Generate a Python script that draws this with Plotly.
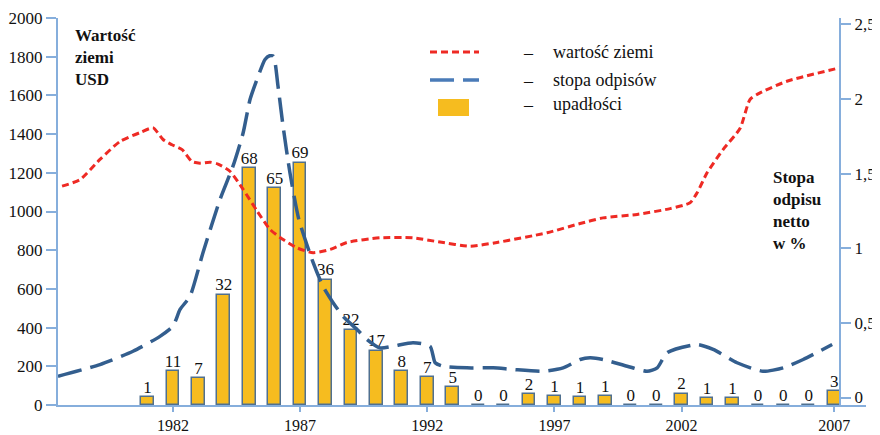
import plotly.graph_objects as go

# ── palette ──────────────────────────────────────────────────────────────
AXIS = "#86AEDC"
RED = "#EE2A24"
BLUE = "#335E8E"
GOLD = "#F6BC1F"
BAR_EDGE = "#50708F"
FONT = "Liberation Serif, Times New Roman, serif"

# ── data ─────────────────────────────────────────────────────────────────
# upadłości: count labels and drawn bar heights (bars use the USD scale)
upadlosci = [1, 11, 7, 32, 68, 65, 69, 36, 22, 17, 8, 7, 5, 0, 0,
             2, 1, 1, 1, 0, 0, 2, 1, 1, 0, 0, 0, 3]
bar_heights = [42, 175, 140, 571, 1226, 1122, 1252, 648, 390, 281, 175, 144, 94, 0, 0,
               58, 44, 42, 45, 0, 0, 59, 37, 37, 0, 0, 0, 73]

tick_pos = [1, 6, 11, 16, 21, 27]
tick_text = ["1982", "1987", "1992", "1997", "2002", "2007"]

# wartość ziemi (USD) - position in bar-slot units
land_x = [-3.36, -2.65, -1.87, -1.08, -0.29, 0.22, 0.61, 0.96, 1.36, 1.75, 2.06, 2.46,
          2.77, 3.24, 3.76, 4.31, 4.82, 5.33, 5.88, 6.51, 7.18, 7.84, 9.14, 10.44,
          11.50, 12.68, 13.74, 15.71, 17.01, 17.91, 19.25, 20.55, 21.33, 21.61, 22.00,
          22.63, 23.30, 23.69, 24.08, 25.14, 27.23]
land_val = [1131, 1165, 1269, 1362, 1408, 1432, 1372, 1345, 1320, 1258, 1250, 1255,
            1245, 1208, 1114, 1002, 907, 855, 812, 787, 804, 840, 864, 864,
            842, 821, 840, 890, 938, 967, 985, 1015, 1045, 1097, 1200,
            1320, 1430, 1579, 1613, 1673, 1743]

# stopa odpisu netto (%)
rate_x = [-3.52, -1.87, -0.57, 0.49, 1.00, 1.28, 1.67, 2.18, 2.85, 3.36, 3.76, 4.03,
          4.35, 4.62, 4.80, 4.95, 5.13, 5.33, 5.60, 5.95, 6.51, 6.90, 7.29, 7.69,
          8.24, 8.63, 9.14, 9.66, 10.44, 11.11, 11.31, 11.62, 12.56, 13.59, 14.37,
          15.55, 16.34, 17.01, 17.40, 17.91, 18.86, 19.64, 20.04, 20.43, 21.61,
          22.24, 23.18, 24.20, 24.99, 25.78, 26.92]
rate_val = [0.143, 0.221, 0.31, 0.41, 0.478, 0.59, 0.679, 0.97, 1.327, 1.55, 1.774, 1.997,
            2.153, 2.265, 2.29, 2.287, 2.087, 1.818, 1.506, 1.193, 0.905, 0.744, 0.637, 0.543,
            0.456, 0.389, 0.333, 0.344, 0.367, 0.344, 0.233, 0.21, 0.199, 0.199, 0.188,
            0.176, 0.199, 0.255, 0.266, 0.255, 0.21, 0.176, 0.199, 0.30, 0.355,
            0.322, 0.233, 0.176, 0.199, 0.255, 0.355]

left_ticks = [0, 200, 400, 600, 800, 1000, 1200, 1400, 1600, 1800, 2000]
right_ticks = [0, 0.5, 1, 1.5, 2, 2.5]
right_text = ["0", "0,5", "1", "1,5", "2", "2,5"]

# ── geometry: page body has an 8px margin, so the figure is 8px smaller ─
OFF = 8
W, H = 880 - OFF, 435 - OFF
L, R, T, B = 58 - OFF, 866 - OFF, 18 - OFF, 405 - OFF


def px(x, y):
    # screen pixel -> paper coords
    return (x - OFF - L) / (R - L), (B - (y - OFF)) / (B - T)


bar_pos = list(range(len(upadlosci)))

fig = go.Figure()
fig.add_trace(go.Bar(
    x=bar_pos, y=bar_heights, width=0.5,
    marker=dict(color=GOLD, line=dict(color=BAR_EDGE, width=1.5)),
    showlegend=False,
))
fig.add_trace(go.Scatter(
    x=bar_pos, y=bar_heights, mode="text", text=[str(v) for v in upadlosci],
    textposition="top center", textfont=dict(family=FONT, size=17, color="#111"),
    showlegend=False,
))
fig.add_trace(go.Scatter(
    x=land_x, y=land_val, mode="lines",
    line=dict(color=RED, width=3, dash="7px,4px", shape="spline", smoothing=0.6),
    showlegend=False,
))
fig.add_trace(go.Scatter(
    x=rate_x, y=rate_val, mode="lines", yaxis="y2",
    line=dict(color=BLUE, width=3.5, dash="24px,9px", shape="spline", smoothing=0.6),
    showlegend=False,
))

right_pos = (840 - 58) / (866 - 58)
ax_common = dict(showgrid=False, zeroline=False, showline=True, linecolor=AXIS,
                 linewidth=2, tickcolor=AXIS, tickwidth=2,
                 tickfont=dict(family=FONT, size=17, color="#111"))

fig.update_layout(
    width=W, height=H,
    margin=dict(l=L, r=W - R, t=T, b=H - B, autoexpand=False),
    paper_bgcolor="white", plot_bgcolor="white",
    font=dict(family=FONT, color="#111"),
    showlegend=False,
    bargap=0,
    xaxis=dict(range=[-3.52, 28.25], tickvals=tick_pos, ticktext=tick_text,
               ticks="outside", ticklen=5, **ax_common),
    yaxis=dict(range=[0, 2000], tickvals=left_ticks, ticks="outside", ticklen=10,
               **ax_common),
    yaxis2=dict(range=[-0.05, 2.543], overlaying="y", anchor="free", position=right_pos,
                side="right", tickvals=right_ticks, ticktext=right_text,
                ticks="outside", ticklen=10, automargin=False, **ax_common),
    yaxis3=dict(range=[0, 2000], overlaying="y", anchor="x", side="left",
                tickvals=left_ticks, ticks="inside", ticklen=10, showticklabels=False,
                showgrid=False, zeroline=False, showline=False, tickcolor=AXIS, tickwidth=2),
    yaxis4=dict(range=[-0.05, 2.543], overlaying="y", anchor="free", position=right_pos,
                side="right", tickvals=right_ticks[1:], ticks="inside", ticklen=8,
                showticklabels=False, showgrid=False, zeroline=False, showline=False,
                tickcolor=AXIS, tickwidth=2),
)
fig.update_xaxes(tickfont_size=16)

# axis titles
x0, y0 = px(73, 24)
fig.add_annotation(xref="paper", yref="paper", x=x0, y=y0, xanchor="left", yanchor="top",
                   align="left", showarrow=False,
                   text="<b>Wartość<br>ziemi<br>USD</b>",
                   font=dict(family=FONT, size=17, color="#111"))
x0, y0 = px(771, 166)
fig.add_annotation(xref="paper", yref="paper", x=x0, y=y0, xanchor="left", yanchor="top",
                   align="left", showarrow=False,
                   text="<b>Stopa<br>odpisu<br>netto<br>w %</b>",
                   font=dict(family=FONT, size=17, color="#111"))

# legend drawn by hand
legend_rows = [("wartość ziemi", 52), ("stopa odpisów", 80), ("upadłości", 104)]
a, b_ = px(430, 52), px(479, 52)
fig.add_shape(type="line", xref="paper", yref="paper", x0=a[0], y0=a[1], x1=b_[0], y1=b_[1],
              line=dict(color=RED, width=3, dash="7px,4px"))
a, b_ = px(430, 80), px(479, 80)
fig.add_shape(type="line", xref="paper", yref="paper", x0=a[0], y0=a[1], x1=b_[0], y1=b_[1],
              line=dict(color="#4A7BB8", width=3.5, dash="24px,9px"))
a, b_ = px(438, 99), px(469, 116)
fig.add_shape(type="rect", xref="paper", yref="paper", x0=a[0], y0=a[1], x1=b_[0], y1=b_[1],
              fillcolor=GOLD, line=dict(width=0))
for label, ypix in legend_rows:
    xd, yd = px(528, ypix + 1)
    fig.add_annotation(xref="paper", yref="paper", x=xd, y=yd, xanchor="center",
                       yanchor="middle", showarrow=False, text="–",
                       font=dict(family=FONT, size=18, color="#111"))
    xt, yt = px(551, ypix)
    fig.add_annotation(xref="paper", yref="paper", x=xt, y=yt, xanchor="left",
                       yanchor="middle", showarrow=False, text=label,
                       font=dict(family=FONT, size=18, color="#111"))

fig.write_html("out.html")
